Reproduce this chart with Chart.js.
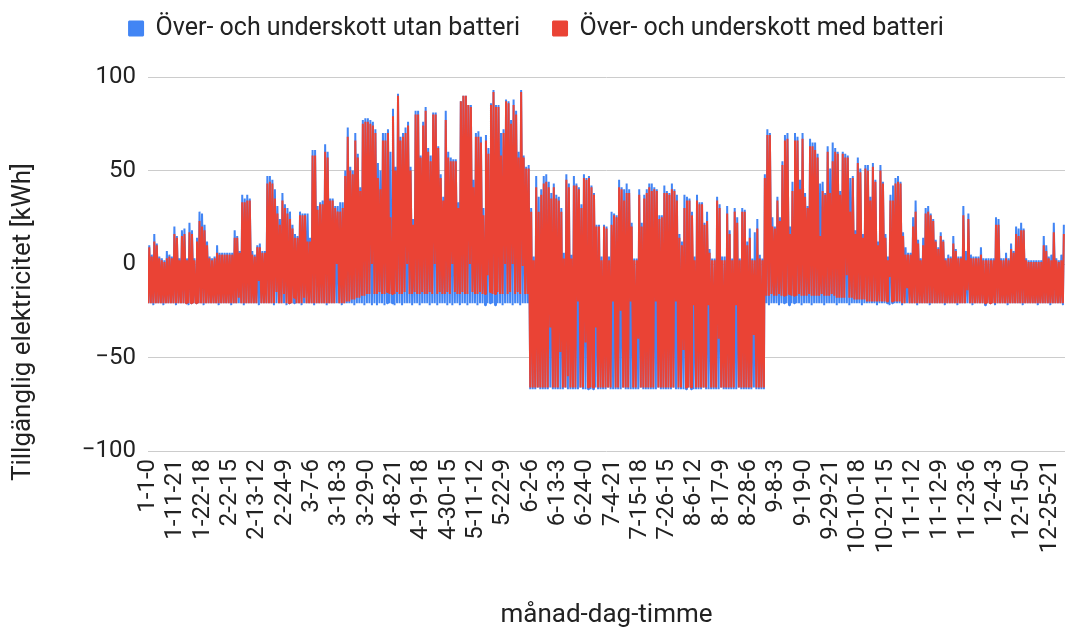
<!DOCTYPE html>
<html lang="sv">
<head>
<meta charset="utf-8">
<title>Tillgänglig elektricitet</title>
<script src="https://cdn.jsdelivr.net/npm/chart.js@4.4.1/dist/chart.umd.min.js"></script>
<style>
    html, body { margin: 0; padding: 0; background: #fff; }
    #wrap { width: 1067px; height: 632px; position: relative; }
</style>
</head>
<body>
<div id="wrap"><canvas id="elChart"></canvas></div>
<script>
// Etiketter på x-axeln (månad-dag-timme)
const tickEtiketter = [
    '1-1-0', '1-11-21', '1-22-18', '2-2-15', '2-13-12', '2-24-9', '3-7-6', '3-18-3', '3-29-0',
    '4-8-21', '4-19-18', '4-30-15', '5-11-12', '5-22-9', '6-2-6', '6-13-3', '6-24-0', '7-4-21',
    '7-15-18', '7-26-15', '8-6-12', '8-17-9', '8-28-6', '9-8-3', '9-19-0', '9-29-21', '10-10-18',
    '10-21-15', '11-1-12', '11-12-9', '11-23-6', '12-4-3', '12-15-0', '12-25-21'
];
const manadStart = [0, 31, 59, 90, 120, 151, 181, 212, 243, 273, 304, 334];

// Dygnets högsta värde (kWh), utan batteri – en rad per månad
const toppUtanBatteri = [
    10,5,16,11,4,3,2,7,5,4,20,15,3,18,19,3,22,18,3,14,28,27,21,12,4,3,4,10,6,6,6,
    6,6,6,18,15,7,37,35,37,35,7,5,10,11,7,7,47,47,45,40,31,24,38,32,30,28,21,16,
    15,28,27,27,27,14,61,61,31,33,34,64,60,35,35,31,31,33,33,50,73,52,50,70,59,41,77,78,78,77,76,
    72,54,50,70,70,72,60,83,52,91,68,70,73,76,52,24,82,82,58,76,84,62,58,81,81,63,48,36,82,60,
    57,56,56,33,87,90,90,85,85,45,70,71,68,30,69,62,86,93,85,85,70,72,88,87,77,88,82,60,93,58,52,
    53,30,4,47,36,40,47,48,44,38,43,37,36,30,6,48,43,5,47,43,41,32,48,46,47,42,38,21,21,4,
    21,20,4,28,27,26,45,41,40,43,40,22,3,3,40,22,37,40,43,43,41,40,26,26,42,39,38,43,40,37,16,
    12,37,36,35,28,4,37,33,33,22,28,8,3,3,36,32,4,4,31,18,3,30,25,3,30,29,12,19,3,17,24,
    5,3,48,72,70,25,20,36,25,55,69,70,20,44,70,68,45,70,38,31,67,65,65,59,43,44,38,63,51,65,
    62,60,39,60,59,58,46,47,18,57,51,16,53,53,36,54,45,12,53,44,16,4,37,42,46,47,44,17,9,6,6,
    25,34,13,3,14,30,31,27,24,13,9,17,13,3,5,4,15,8,4,4,31,7,27,5,4,4,4,9,3,3,
    3,3,3,25,24,3,3,6,3,11,7,20,19,22,19,3,2,2,2,2,2,2,15,10,4,5,22,3,2,5,21
];

// Dygnets högsta värde (kWh), med batteri
const toppMedBatteri = [
    9,4,12,10,3,2,1,3,4,3,16,14,2,15,16,2,17,16,2,12,23,20,18,10,3,2,3,6,5,5,5,
    5,5,5,14,14,6,33,33,34,34,5,4,9,9,6,6,43,44,43,35,27,21,34,30,27,24,19,14,
    14,26,26,26,12,12,58,58,29,32,32,60,57,34,34,30,28,28,30,47,68,50,48,66,57,39,75,76,76,75,74,
    70,46,40,66,66,70,25,79,50,90,66,68,70,74,50,21,80,80,57,74,82,60,55,80,80,62,46,34,77,57,
    55,55,55,30,87,90,90,85,84,41,68,68,65,26,66,59,85,92,84,84,58,70,87,86,75,85,80,57,92,57,51,
    51,28,2,41,28,37,43,44,41,35,41,35,34,28,3,45,41,3,42,42,40,30,46,45,46,41,37,20,20,2,
    20,19,2,21,26,25,41,40,34,38,38,20,2,2,37,20,35,38,41,39,40,39,24,25,38,38,37,40,39,34,14,
    10,30,34,34,26,2,34,32,32,21,23,6,2,2,34,30,2,2,27,16,2,28,22,2,28,28,10,14,2,2,19,
    3,2,46,69,69,20,19,34,23,53,66,67,16,39,66,66,40,67,36,30,63,63,61,57,15,39,37,60,38,55,
    60,59,37,59,57,57,28,46,16,54,49,14,51,50,34,52,44,10,50,43,14,2,34,34,43,44,43,15,5,5,5,
    20,28,11,2,10,27,28,26,23,12,8,15,12,2,3,3,11,7,3,3,26,2,24,3,3,3,3,5,2,2,
    2,2,2,21,21,2,2,3,2,8,6,16,15,18,18,2,1,1,1,1,1,1,10,7,3,2,17,2,1,2,16
];

// Dygnets lägsta värde (kWh), utan batteri
const bottenUtanBatteri = [
    -21,-21,-22,-21,-21,-21,-22,-21,-21,-21,-21,-22,-21,-21,-21,-21,-22,-21,-21,-21,-21,-21,-22,-21,-21,-21,-21,-21,-22,-21,-21,
    -21,-21,-22,-21,-21,-21,-21,-22,-21,-21,-21,-21,-21,-22,-21,-21,-21,-21,-21,-22,-21,-21,-21,-21,-22,-21,-21,-21,
    -21,-21,-22,-21,-21,-21,-21,-22,-21,-21,-21,-21,-22,-21,-21,-21,-21,-21,-22,-21,-21,-21,-21,-22,-21,-21,-21,-22,-21,-21,-22,
    -21,-22,-21,-21,-22,-21,-21,-21,-22,-21,-21,-22,-21,-21,-21,-22,-21,-21,-22,-21,-21,-21,-22,-21,-21,-22,-21,-21,-21,-22,
    -21,-22,-21,-21,-22,-21,-21,-22,-21,-21,-21,-22,-21,-21,-22,-21,-21,-21,-22,-21,-21,-22,-21,-21,-21,-22,-21,-21,-22,-21,-21,
    -21,-67,-67,-67,-66,-67,-67,-67,-67,-66,-67,-67,-67,-67,-67,-66,-67,-67,-67,-67,-67,-66,-67,-67,-67,-67,-67,-66,-67,-67,
    -67,-67,-66,-67,-67,-67,-67,-67,-66,-67,-67,-67,-67,-67,-67,-66,-67,-67,-67,-67,-67,-67,-66,-67,-67,-67,-67,-67,-66,-67,-67,
    -67,-67,-67,-66,-67,-67,-67,-67,-67,-66,-67,-67,-67,-67,-67,-67,-66,-67,-67,-67,-67,-67,-67,-66,-67,-67,-67,-67,-67,-66,-67,
    -67,-67,-67,-21,-22,-21,-21,-21,-22,-21,-21,-21,-22,-21,-21,-21,-21,-22,-21,-21,-21,-22,-21,-21,-21,-21,-22,-21,-21,-21,
    -21,-22,-21,-21,-21,-21,-22,-21,-21,-21,-21,-22,-21,-21,-21,-21,-21,-22,-21,-21,-21,-21,-22,-21,-21,-21,-21,-22,-21,-21,-21,
    -21,-21,-22,-21,-21,-21,-21,-22,-21,-21,-21,-21,-21,-22,-21,-21,-21,-21,-22,-21,-21,-21,-21,-21,-22,-21,-21,-21,-21,-22,
    -21,-21,-21,-22,-21,-21,-21,-21,-22,-21,-21,-21,-21,-21,-22,-21,-21,-21,-21,-21,-22,-21,-21,-21,-21,-22,-21,-21,-21,-21,-22
];

// Dygnets lägsta värde (kWh), med batteri
const bottenMedBatteri = [
    -21,-21,-21,-21,-21,-21,-21,-21,-21,-21,-21,-21,-21,-21,-21,-21,-21,-21,-21,-21,-21,-21,-21,-21,-21,-21,-21,-21,-21,-21,-21,
    -21,-21,-21,-21,-21,-18,-21,-21,-21,-21,-21,-21,-21,-9,-21,-21,-21,-21,-21,-21,-15,-21,-21,-16,-21,-21,-21,-18,
    -21,-21,-21,-18,-21,-21,-21,-21,-21,-21,-21,-21,-21,-21,-21,-21,0,-21,-21,-21,-20,-20,-19,-19,-18,-18,-17,-17,-16,-16,0,
    -16,-16,-15,-16,-16,-15,-16,-16,-16,-15,-16,-16,-15,0,-16,-16,-15,-16,-16,-15,-16,-16,-15,-16,0,-16,-15,-16,-16,-15,
    -16,0,-15,-16,-16,-15,-16,-16,0,-15,-16,-16,-15,-16,-16,-6,-15,-16,-16,-15,-16,-16,0,-16,-15,0,-16,-15,-16,-1,-16,
    -16,-66,-66,-66,-66,-66,-66,-66,-66,-34,-66,-66,-66,-47,-66,-66,-60,-66,-66,-66,-20,-66,-66,-42,-66,-66,-66,-34,-66,-66,
    -66,-66,-66,-66,-20,-66,-66,-25,-66,-66,-66,-20,-66,-66,-40,-66,-66,-66,-66,-66,-66,-20,-66,-66,-66,-66,-66,-66,-66,-20,-66,
    -66,-46,-66,-66,-66,-22,-66,-66,-66,-66,-66,-22,-66,-66,-66,-40,-66,-66,-66,-66,-66,-66,-22,-66,-66,-66,-66,-66,-66,-38,-66,
    -66,-66,-66,-17,-17,-16,-17,-17,-16,-17,-17,-17,-16,-17,-17,-17,-16,-17,-17,-17,-16,-17,-17,-17,-17,-16,-17,-17,-17,-16,
    -17,-18,-18,-18,-18,-6,-18,-18,-19,-19,-19,-19,-19,-20,-20,-20,-20,-20,-20,-20,-20,-20,-7,-20,-20,-20,-20,-21,-21,-13,-21,
    -21,-21,-21,-21,-21,-21,-21,-21,-21,-21,-21,-21,-21,-21,-21,-21,-21,-21,-21,-21,-21,-21,-14,-21,-21,-21,-21,-21,-21,-21,
    -21,-21,-21,-21,-21,-21,-21,-21,-21,-21,-21,-21,-21,-21,-21,-21,-21,-21,-21,-21,-21,-21,-21,-21,-21,-21,-21,-21,-21,-21,-21
];

const NATT_TIMME = 3;
const DAG_TIMME = 12;

function timmeFranEtikett(etikett) {
    const [m, d, h] = etikett.split('-').map(Number);
    return (manadStart[m - 1] + d - 1) * 24 + h;
}

function byggSerie(toppar, bottnar) {
    const punkter = [];
    toppar.forEach((topp, dag) => {
        punkter.push({ x: dag * 24 + NATT_TIMME, y: bottnar[dag] });
        punkter.push({ x: dag * 24 + DAG_TIMME, y: topp });
    });
    return punkter;
}

// legenden tar hela utrymmet ovanför diagrammet
const legendAvstand = {
    id: 'legendAvstand',
    beforeInit(chart) {
        const fit = chart.legend.fit;
        chart.legend.fit = function () {
            fit.call(this);
            this.height = 94;
        };
    }
};

document.addEventListener('DOMContentLoaded', () => {
    const textFarg = '#222222';
    const tickFont = { family: 'Roboto', size: 24 };
    const titelFont = { family: 'Roboto', size: 26 };
    const tickTimmar = tickEtiketter.map(timmeFranEtikett);

    new Chart(document.getElementById('elChart'), {
        type: 'line',
        data: {
            datasets: [
                {
                    label: 'Över- och underskott utan batteri',
                    data: byggSerie(toppUtanBatteri, bottenUtanBatteri),
                    borderColor: '#4285f4',
                    backgroundColor: '#4285f4',
                    borderWidth: 2,
                    borderJoinStyle: 'bevel',
                    pointRadius: 0,
                    tension: 0,
                    order: 1
                },
                {
                    label: 'Över- och underskott med batteri',
                    data: byggSerie(toppMedBatteri, bottenMedBatteri),
                    borderColor: '#ea4335',
                    backgroundColor: '#ea4335',
                    borderWidth: 2,
                    borderJoinStyle: 'bevel',
                    pointRadius: 0,
                    tension: 0,
                    order: 0
                }
            ]
        },
        options: {
            responsive: true,
            maintainAspectRatio: false,
            animation: false,
            layout: { padding: { top: -17, left: 8, right: 2, bottom: 0 } },
            plugins: {
                tooltip: { enabled: false },
                legend: {
                    position: 'top',
                    labels: {
                        color: textFarg,
                        font: { family: 'Roboto', size: 25 },
                        boxWidth: 14,
                        boxHeight: 14,
                        padding: 33,
                        sort: (a, b) => a.datasetIndex - b.datasetIndex
                    }
                }
            },
            scales: {
                x: {
                    type: 'linear',
                    min: 0,
                    max: 8759,
                    afterBuildTicks: axis => {
                        axis.ticks = tickTimmar.map(v => ({ value: v }));
                    },
                    afterFit: scale => {
                        scale.height = 181;
                        scale.paddingLeft = 0;
                        scale.paddingRight = 0;
                    },
                    ticks: {
                        autoSkip: false,
                        minRotation: 90,
                        maxRotation: 90,
                        padding: 8,
                        color: textFarg,
                        font: tickFont,
                        callback: (value, index) => tickEtiketter[index]
                    },
                    grid: { display: false, drawTicks: false },
                    border: { display: false },
                    title: {
                        display: true,
                        text: 'månad-dag-timme',
                        color: textFarg,
                        font: titelFont,
                        padding: { top: 0, bottom: 1 }
                    }
                },
                y: {
                    min: -100,
                    max: 100,
                    afterFit: scale => { scale.width = 140; },
                    ticks: {
                        stepSize: 50,
                        padding: 12,
                        color: textFarg,
                        font: tickFont,
                        callback: value => String(value).replace('-', '\u2212')
                    },
                    grid: { color: '#cccccc', drawTicks: false },
                    border: { display: false },
                    title: {
                        display: true,
                        // blanktecken sist flyttar titeln nedåt som i originalet
                        text: 'Tillgänglig elektricitet [kWh]' + ' '.repeat(18),
                        color: textFarg,
                        font: titelFont,
                        padding: { top: 0, bottom: 0 }
                    }
                }
            }
        },
        plugins: [legendAvstand]
    });
});
</script>
</body>
</html>
